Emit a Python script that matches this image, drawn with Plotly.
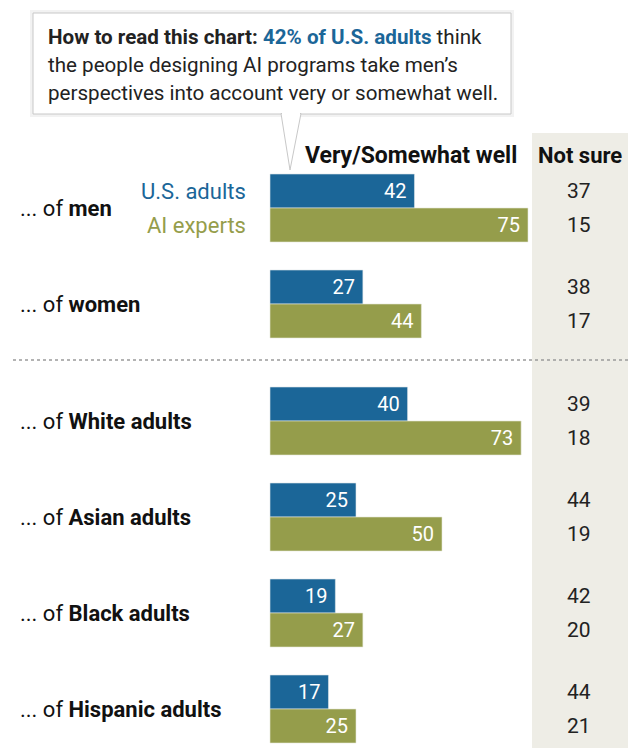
import plotly.graph_objects as go

# ---------------- data ----------------
groups = ["men", "women", "White adults", "Asian adults", "Black adults", "Hispanic adults"]
us_adults = [42, 27, 40, 25, 19, 17]
ai_experts = [75, 44, 73, 50, 27, 25]
us_not_sure = [37, 38, 39, 44, 42, 44]
ai_not_sure = [15, 17, 18, 19, 20, 21]
series_names = ["U.S. adults", "AI experts"]

BLUE = "#1b6698"
OLIVE = "#959d4b"
GRAYBG = "#eeede6"
FONT = "Roboto, sans-serif"
FS = 20         # numbers
FS_CALL = 20.6  # callout text
FS_LAB = 22     # row / series labels
FS_HEAD = 23    # column headers

W, H = 633, 748
# layout mapping: x data 0 at pixel 270, 100 units = 344 px
X0PX, XSCALE = 270, 3.44
# y: group units of 96px, center of first group at 208px
Y0PX, YSCALE = 208, 96.0
GAP = 21 / 96.0
ypos = [i + (GAP if i >= 2 else 0) for i in range(len(groups))]
BW = 34 / 96.0

xr = [-X0PX / XSCALE, (W - X0PX) / XSCALE]
yr = [(H - Y0PX) / YSCALE, (0 - Y0PX) / YSCALE]


def px(x):
    return x / W


def py(y):
    return 1 - y / H


PAD = "\u00a0"

fig = go.Figure()
fig.add_trace(go.Bar(
    y=ypos, x=us_adults, orientation="h", name=series_names[0],
    offset=-BW, width=BW, marker=dict(color=BLUE, line=dict(color="#dfe6ea", width=0.6)),
    text=[f"{v}{PAD}" for v in us_adults], textposition="inside", insidetextanchor="end",
    textfont=dict(color="white", size=FS, family=FONT), cliponaxis=False,
))
fig.add_trace(go.Bar(
    y=ypos, x=ai_experts, orientation="h", name=series_names[1],
    offset=0, width=BW, marker=dict(color=OLIVE, line=dict(color="#e6e8d8", width=0.6)),
    text=[f"{v}{PAD}" for v in ai_experts], textposition="inside", insidetextanchor="end",
    textfont=dict(color="white", size=FS, family=FONT), cliponaxis=False,
))

shapes = []
annotations = []

# gray "Not sure" column
shapes.append(dict(type="rect", xref="paper", yref="paper", x0=px(532), x1=px(628),
                   y0=py(748), y1=py(133), fillcolor=GRAYBG, line=dict(width=0), layer="below"))

# dotted separator
shapes.append(dict(type="line", xref="paper", yref="paper", x0=px(13), x1=px(628),
                   y0=py(360), y1=py(360), line=dict(color="#9a9a9a", width=1.3, dash="dot")))

# callout box shadow + box + pointer
shapes.append(dict(type="rect", xref="paper", yref="paper", x0=px(30), x1=px(514),
                   y0=py(117), y1=py(10), fillcolor="rgba(0,0,0,0.05)", line=dict(width=0)))
shapes.append(dict(type="rect", xref="paper", yref="paper", x0=px(33), x1=px(511),
                   y0=py(114), y1=py(13), fillcolor="white", line=dict(color="#c8c8c8", width=1)))
shapes.append(dict(type="path", xref="paper", yref="paper",
                   path=f"M {px(281)},{py(113.5)} L {px(290)},{py(170)} L {px(301)},{py(113.5)} Z",
                   fillcolor="white", line=dict(color="#c8c8c8", width=1)))
shapes.append(dict(type="line", xref="paper", yref="paper", x0=px(282), x1=px(300),
                   y0=py(114), y1=py(114), line=dict(color="white", width=2)))

# callout text
callout_lines = [
    f"<b>How to read this chart: </b><b><span style='color:{BLUE}'>42% of U.S. adults</span></b> think",
    "the people designing AI programs take men’s",
    "perspectives into account very or somewhat well.",
]
for i, line in enumerate(callout_lines):
    annotations.append(dict(xref="paper", yref="paper", x=px(46), y=py(37 + 28 * i),
                            text=line, showarrow=False, xanchor="left", yanchor="middle",
                            font=dict(size=FS_CALL, family=FONT, color="#222222")))

# headers
annotations.append(dict(xref="paper", yref="paper", x=px(519), y=py(155), text="<b>Very/Somewhat well</b>",
                        showarrow=False, xanchor="right", yanchor="middle",
                        font=dict(size=FS_HEAD, family=FONT, color="#111111")))
annotations.append(dict(xref="paper", yref="paper", x=px(580), y=py(155), text="<b>Not sure</b>",
                        showarrow=False, xanchor="center", yanchor="middle",
                        font=dict(size=FS_HEAD - 1, family=FONT, color="#111111")))

# series labels next to first group
annotations.append(dict(x=-6.3, y=ypos[0] - BW / 2, xref="x", yref="y", text=series_names[0],
                        showarrow=False, xanchor="right", yanchor="middle",
                        font=dict(size=FS_LAB, family=FONT, color=BLUE)))
annotations.append(dict(x=-6.3, y=ypos[0] + BW / 2, xref="x", yref="y", text=series_names[1],
                        showarrow=False, xanchor="right", yanchor="middle",
                        font=dict(size=FS_LAB, family=FONT, color=OLIVE)))

# row labels and not-sure values
for g, yv, a, b in zip(groups, ypos, us_not_sure, ai_not_sure):
    annotations.append(dict(xref="paper", x=px(18), y=yv, yref="y", text=f"... of <b>{g}</b>",
                            showarrow=False, xanchor="left", yanchor="middle",
                            font=dict(size=FS_LAB, family=FONT, color="#111111")))
    annotations.append(dict(xref="paper", x=px(579), y=yv - BW / 2, yref="y", text=str(a),
                            showarrow=False, xanchor="center", yanchor="middle",
                            font=dict(size=FS + 1, family=FONT, color="#222222")))
    annotations.append(dict(xref="paper", x=px(579), y=yv + BW / 2, yref="y", text=str(b),
                            showarrow=False, xanchor="center", yanchor="middle",
                            font=dict(size=FS + 1, family=FONT, color="#222222")))

fig.update_layout(
    width=W, height=H, margin=dict(l=0, r=0, t=0, b=0),
    paper_bgcolor="white", plot_bgcolor="rgba(0,0,0,0)",
    showlegend=False, barmode="overlay",
    xaxis=dict(range=xr, visible=False, fixedrange=True),
    yaxis=dict(range=yr, visible=False, fixedrange=True),
    shapes=shapes, annotations=annotations,
    uniformtext=dict(minsize=FS, mode="show"),
)

fig.write_html("out.html", config={"displayModeBar": False},
               post_script="document.body.style.margin='0';document.body.style.overflow='hidden';")
